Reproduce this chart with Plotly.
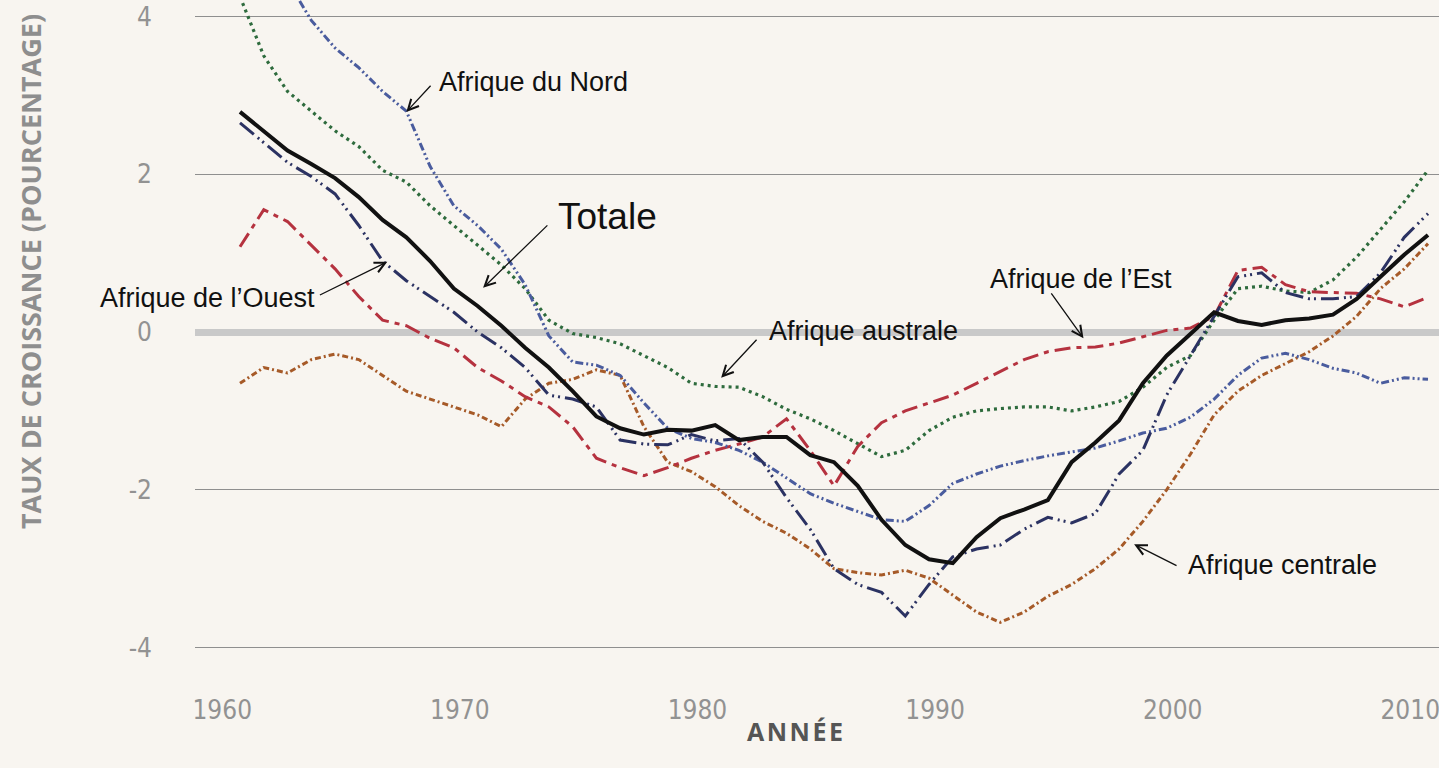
import plotly.graph_objects as go

years = list(range(1961, 2012))

totale = [2.79, 2.55, 2.3, 2.13, 1.95, 1.71, 1.42, 1.2, 0.9, 0.55,
          0.33, 0.08, -0.2, -0.45, -0.75, -1.07, -1.22, -1.3, -1.24, -1.25,
          -1.18, -1.37, -1.33, -1.33, -1.56, -1.65, -1.95, -2.38, -2.7, -2.88,
          -2.93, -2.6, -2.36, -2.25, -2.13, -1.65, -1.4, -1.12, -0.65, -0.3,
          -0.02, 0.25, 0.14, 0.09, 0.15, 0.17, 0.22, 0.42, 0.7, 0.98, 1.23]

nord = [5.6, 5.0, 4.45, 3.95, 3.6, 3.35, 3.05, 2.8, 2.1, 1.6,
        1.35, 1.05, 0.6, -0.05, -0.38, -0.42, -0.55, -0.9, -1.22, -1.35,
        -1.4, -1.5, -1.65, -1.85, -2.05, -2.17, -2.28, -2.38, -2.4, -2.2,
        -1.92, -1.8, -1.7, -1.63, -1.57, -1.52, -1.47, -1.38, -1.28, -1.22,
        -1.08, -0.85, -0.55, -0.33, -0.27, -0.35, -0.46, -0.52, -0.65, -0.58, -0.6]

ouest = [2.65, 2.4, 2.15, 1.97, 1.75, 1.35, 0.9, 0.65, 0.45, 0.25,
         0.0, -0.2, -0.45, -0.8, -0.85, -0.95, -1.37, -1.42, -1.43, -1.3,
         -1.38, -1.35, -1.65, -2.1, -2.5, -3.0, -3.2, -3.3, -3.6, -3.2,
         -2.85, -2.75, -2.7, -2.5, -2.35, -2.42, -2.3, -1.8, -1.5, -0.8,
         -0.3, 0.2, 0.7, 0.75, 0.5, 0.42, 0.42, 0.45, 0.75, 1.2, 1.5]

est = [1.08, 1.55, 1.4, 1.1, 0.8, 0.45, 0.15, 0.08, -0.08, -0.2,
       -0.45, -0.62, -0.82, -0.95, -1.2, -1.6, -1.72, -1.82, -1.72, -1.6,
       -1.5, -1.42, -1.33, -1.1, -1.5, -1.95, -1.45, -1.15, -1.0, -0.9,
       -0.8, -0.65, -0.5, -0.35, -0.25, -0.2, -0.19, -0.14, -0.06, 0.02,
       0.05, 0.2, 0.78, 0.82, 0.6, 0.51, 0.5, 0.49, 0.42, 0.32, 0.44]

australe = [4.25, 3.5, 3.05, 2.8, 2.55, 2.35, 2.05, 1.9, 1.6, 1.35,
            1.1, 0.85, 0.55, 0.15, -0.02, -0.07, -0.15, -0.3, -0.45, -0.65,
            -0.69, -0.7, -0.82, -0.98, -1.1, -1.25, -1.42, -1.58, -1.5, -1.25,
            -1.08, -1.0, -0.97, -0.95, -0.95, -1.0, -0.95, -0.88, -0.7, -0.45,
            -0.3, 0.15, 0.55, 0.58, 0.52, 0.5, 0.66, 0.95, 1.3, 1.65, 2.05]

centrale = [-0.65, -0.45, -0.52, -0.35, -0.28, -0.35, -0.55, -0.75, -0.85, -0.95,
            -1.05, -1.2, -0.85, -0.65, -0.6, -0.48, -0.55, -1.2, -1.65, -1.77,
            -1.96, -2.2, -2.4, -2.55, -2.75, -3.0, -3.05, -3.08, -3.02, -3.12,
            -3.33, -3.55, -3.68, -3.55, -3.35, -3.2, -3.0, -2.75, -2.4, -2.0,
            -1.55, -1.05, -0.75, -0.55, -0.4, -0.25, -0.05, 0.2, 0.55, 0.8, 1.12]

x_ticks = [1960, 1970, 1980, 1990, 2000, 2010]
y_ticks = [-4, -2, 0, 2, 4]
y_labels = ["-4", "-2", "0", "2", "4"]

fig = go.Figure()

# regional lines first, total on top
styles = [
    ("Afrique centrale", centrale, "#a65a28", "6px,3px,2px,3px", 3),
    ("Afrique australe", australe, "#2e6b3d", "3px,4px", 3.2),
    ("Afrique de l'Est", est, "#b5323f", "16px,6px,5px,6px", 3),
    ("Afrique du Nord", nord, "#4a5c9e", "8px,3px,2px,3px,2px,3px", 3),
    ("Afrique de l'Ouest", ouest, "#2b3262", "18px,5px,2px,4px,2px,5px", 3),
]
for name, vals, col, dash, w in styles:
    fig.add_trace(go.Scatter(x=years, y=vals, mode="lines", name=name,
                             line=dict(color=col, dash=dash, width=w)))

fig.add_trace(go.Scatter(x=years, y=totale, mode="lines", name="Totale",
                         line=dict(color="#111111", width=4)))

tick_font = dict(family="Liberation Sans Narrow, DejaVu Sans Condensed, Roboto", size=26, color="#929292")

fig.update_layout(
    width=1439, height=768,
    margin=dict(l=195, r=0, t=0, b=98),
    paper_bgcolor="#f8f5f0", plot_bgcolor="#f8f5f0",
    showlegend=False,
    xaxis=dict(range=[1959.106, 2011.463], tickvals=x_ticks, showgrid=False,
               zeroline=False, showline=False, tickfont=tick_font,
               ticks="", ticklabelstandoff=22, ticklabelshift=6,
               ticklabeloverflow="allow"),
    yaxis=dict(range=[-4.284, 4.208], tickvals=y_ticks, ticktext=y_labels,
               showgrid=True, gridcolor="#8f8f8f", gridwidth=1, zeroline=True,
               zerolinecolor="#c9c9c9", zerolinewidth=7, showline=False,
               tickfont=tick_font, ticks="", ticklabelstandoff=42),
)

lab_font = dict(family="Liberation Sans, Arial", size=27, color="#111111")

texts = [
    ("Afrique du Nord", 1969.3, 3.17, "left", 27),
    ("Totale", 1974.3, 1.47, "left", 37),
    ("Afrique de l\u2019Ouest", 1964.25, 0.43, "right", 27),
    ("Afrique australe", 1983.2, 0.01, "left", 27),
    ("Afrique de l\u2019Est", 1992.5, 0.67, "left", 27),
    ("Afrique centrale", 2000.8, -2.95, "left", 27),
]
for t, xx, yy, anc, sz in texts:
    fig.add_annotation(x=xx, y=yy, text=t, showarrow=False, xanchor=anc,
                       yanchor="middle", font=dict(lab_font, size=sz))

# arrows: (tip x, tip y, tail x, tail y)
arrows = [
    (1968.0, 2.79, 1969.08, 3.14),
    (1971.23, 0.56, 1974.0, 1.37),
    (1967.2, 0.89, 1964.3, 0.46),
    (1981.25, -0.58, 1982.8, -0.08),
    (1996.5, -0.08, 1995.1, 0.51),
    (1998.63, -2.69, 2000.48, -2.97),
]
for tx, ty, sx, sy in arrows:
    fig.add_annotation(x=tx, y=ty, ax=sx, ay=sy, axref="x", ayref="y",
                       text="", showarrow=True, arrowhead=5, arrowsize=1.6,
                       arrowwidth=1.3, arrowcolor="#111111")

fig.add_annotation(xref="paper", yref="paper", x=-0.1326, y=0.594,
                   text="<b>TAUX DE CROISSANCE (POURCENTAGE)</b>", textangle=-90,
                   showarrow=False, xanchor="center", yanchor="middle",
                   font=dict(family="Open Sans", size=27, color="#8e8e8e"))
fig.add_annotation(xref="paper", yref="paper", x=0.482, y=-0.091,
                   text="<b>A\u200aN\u200aN\u200aÉ\u200aE</b>", showarrow=False,
                   xanchor="center", yanchor="middle",
                   font=dict(family="Open Sans", size=25, color="#555555"))

fig.write_html("out.html", config={"displayModeBar": False},
               post_script="document.body.style.margin='0';")
